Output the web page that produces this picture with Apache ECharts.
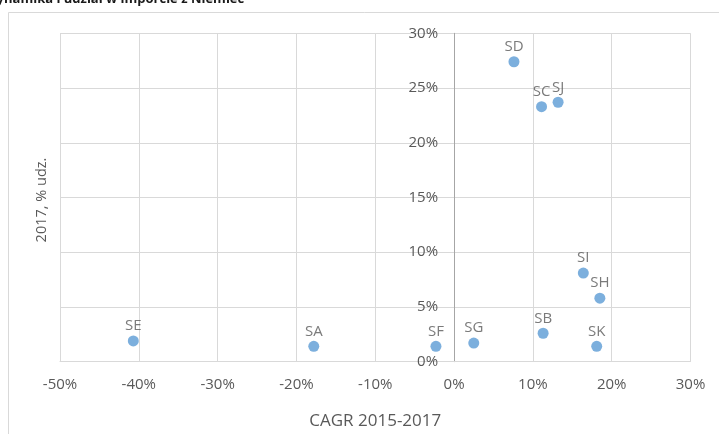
<!DOCTYPE html>
<html>
<head>
<meta charset="utf-8">
<script src="https://cdn.jsdelivr.net/npm/echarts@6/dist/echarts.min.js"></script>
<style>
  html, body { margin: 0; padding: 0; background: #fff; }
  #chart { width: 719px; height: 434px; }
</style>
</head>
<body>
<div id="chart"></div>
<script>
// Product segments: growth (CAGR 2015-2017, %) vs share in 2017 (%)
const segments = ['SE', 'SA', 'SF', 'SG', 'SB', 'SK', 'SH', 'SI', 'SC', 'SJ', 'SD'];
const cagr     = [-40.7, -17.8, -2.3, 2.5, 11.3, 18.1, 18.5, 16.4, 11.1, 13.2, 7.6];
const share    = [1.9, 1.4, 1.4, 1.7, 2.6, 1.4, 5.8, 8.1, 23.3, 23.7, 27.4];

const titleText = 'Dynamika i udział w imporcie z Niemiec';
const xName = 'CAGR 2015-2017';
const yName = '2017, % udz.';

const font = '"Open Sans", "Noto Sans", sans-serif';
const textGray = '#595959';
const gridGray = '#d9d9d9';

const gridLeft = 60, gridRight = 28.5;
const xMin = -50, xMax = 30;
const chartW = 719;

// shift the vertical axis (line + labels) so it crosses the horizontal axis at 0
const plotW = chartW - gridLeft - gridRight;
const yAxisShift = -plotW * (0 - xMin) / (xMax - xMin);

const points = segments.map((s, i) => ({ name: s, value: [cagr[i], share[i]] }));

const chart = echarts.init(document.getElementById('chart'));
chart.setOption({
  animation: false,
  backgroundColor: '#fff',
  textStyle: { fontFamily: font },
  title: {
    text: titleText,
    left: -18,
    top: -12,
    textStyle: { fontFamily: font, fontSize: 13, fontWeight: 'bold', color: '#1a1a1a' }
  },
  graphic: [
    {
      type: 'rect',
      shape: { x: 8.5, y: 12.5, width: 800, height: 600 },
      style: { fill: 'none', stroke: gridGray, lineWidth: 1 },
      silent: true
    },
    {
      type: 'text',
      x: 42,
      y: 200,
      rotation: Math.PI / 2,
      style: {
        text: yName,
        fill: textGray,
        font: '14.5px ' + font,
        align: 'center',
        verticalAlign: 'middle'
      }
    }
  ],
  grid: {
    left: gridLeft, right: gridRight, top: 33.3, bottom: 72.3,
    outerBoundsMode: 'none'
  },
  xAxis: {
    type: 'value',
    min: xMin,
    max: xMax,
    interval: 10,
    name: xName,
    nameLocation: 'middle',
    nameGap: 51,
    nameTextStyle: { color: textGray, fontSize: 17, fontFamily: font },
    axisLine: { show: true, onZero: false, lineStyle: { color: gridGray } },
    axisTick: { show: false },
    axisLabel: { color: textGray, fontSize: 15, margin: 16, formatter: '{value}%' },
    splitLine: { show: true, lineStyle: { color: gridGray, width: 1 } }
  },
  yAxis: {
    type: 'value',
    min: 0,
    max: 30,
    interval: 5,
    position: 'left',
    offset: yAxisShift,
    axisLine: { show: true, onZero: false, lineStyle: { color: '#a6a6a6' } },
    axisTick: { show: false },
    axisLabel: { color: textGray, fontSize: 15, margin: 16, formatter: '{value}%' },
    splitLine: { show: true, lineStyle: { color: gridGray, width: 1 } }
  },
  series: [{
    type: 'scatter',
    data: points,
    symbolSize: 11,
    itemStyle: { color: '#5b9bd5' },
    label: {
      show: true,
      position: 'top',
      distance: 2,
      formatter: p => p.name,
      color: textGray,
      fontSize: 15,
      fontFamily: font
    }
  }]
});
</script>
</body>
</html>
